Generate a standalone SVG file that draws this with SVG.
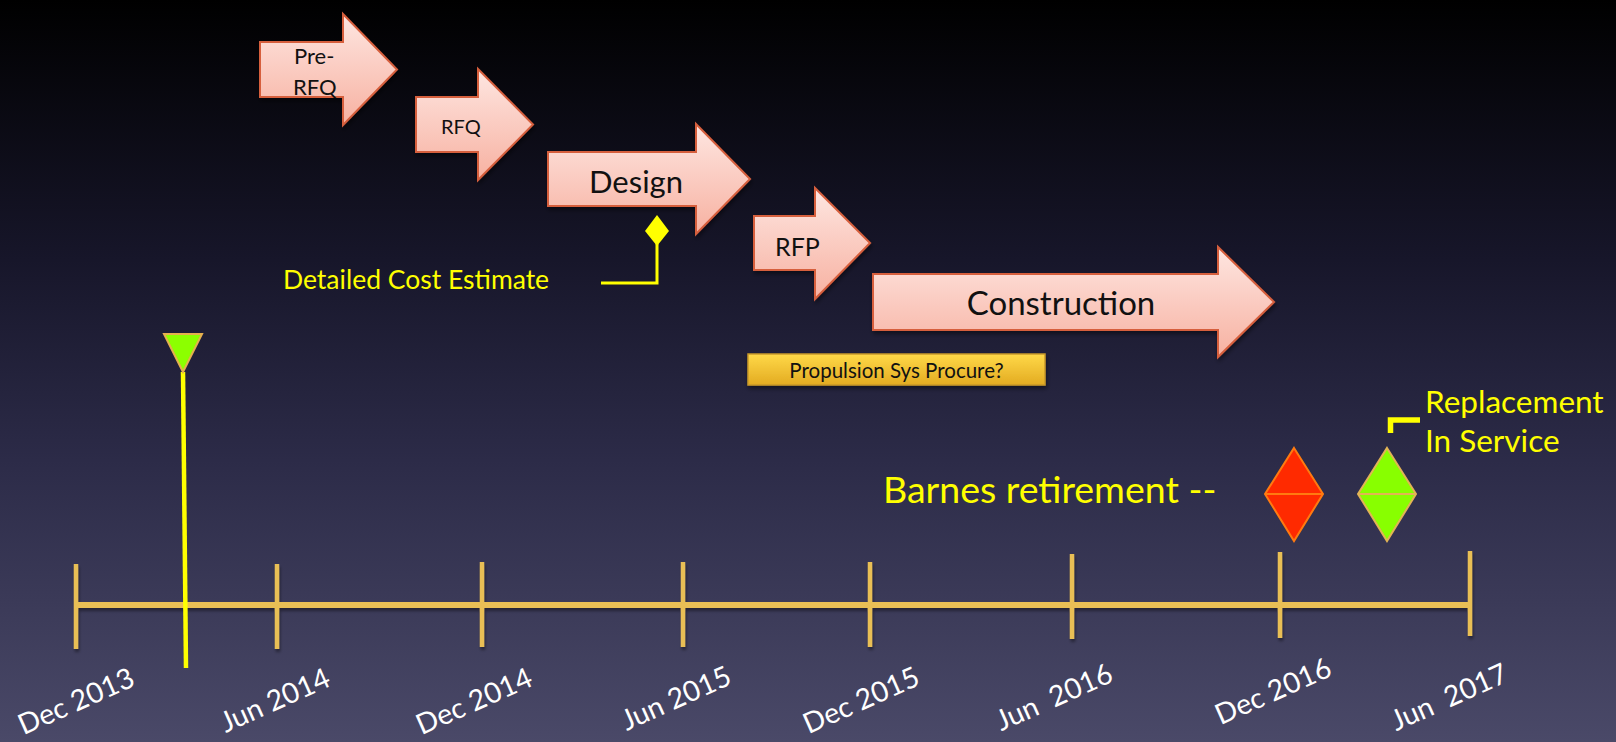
<svg xmlns="http://www.w3.org/2000/svg" width="1616" height="742" viewBox="0 0 1616 742">
<defs>
<linearGradient id="bg" x1="0" y1="0" x2="0" y2="1">
<stop offset="0" stop-color="#000000"/>
<stop offset="0.35" stop-color="#17162a"/>
<stop offset="0.62" stop-color="#2c2b48"/>
<stop offset="1" stop-color="#4a4968"/>
</linearGradient>
<linearGradient id="pink" x1="0" y1="0" x2="0" y2="1">
<stop offset="0" stop-color="#fee6e1"/>
<stop offset="1" stop-color="#f7b1a1"/>
</linearGradient>
<linearGradient id="gold" x1="0" y1="0" x2="0" y2="1">
<stop offset="0" stop-color="#ffd948"/>
<stop offset="1" stop-color="#e3ab22"/>
</linearGradient>
<filter id="sh" x="-10%" y="-10%" width="130%" height="140%">
<feDropShadow dx="1" dy="3" stdDeviation="2" flood-color="#000" flood-opacity="0.45"/>
</filter>
<filter id="shl" filterUnits="userSpaceOnUse" x="0" y="0" width="1616" height="742">
<feDropShadow dx="1" dy="3" stdDeviation="1.5" flood-color="#000" flood-opacity="0.4"/>
</filter>
</defs>
<style>
.arrow{fill:url(#pink);stroke:#d65f3e;stroke-width:2;filter:url(#sh)}
.atext{font-family:Lato,"Liberation Sans",sans-serif;fill:#111}
.ytext{font-family:Lato,"Liberation Sans",sans-serif;fill:#ffff00}
.date{font-family:Lato,"Liberation Sans",sans-serif;fill:#ffffff;font-size:28.5px;text-anchor:middle;white-space:pre}
.axis{stroke:#e9bf55;stroke-width:6;fill:none}
.tick{stroke:#e9bf55;stroke-width:4.5;fill:none}
.conn{stroke:#ffff00;fill:none}
</style>
<rect x="0" y="0" width="1616" height="742" fill="url(#bg)"/>

<g id="timeline">
<g filter="url(#shl)">
<line class="axis" x1="75" y1="605" x2="1469" y2="605"/>
<line class="tick" x1="76" y1="564" x2="76" y2="649"/>
<line class="tick" x1="277" y1="564" x2="277" y2="649"/>
<line class="tick" x1="482" y1="562" x2="482" y2="647"/>
<line class="tick" x1="683" y1="562" x2="683" y2="647"/>
<line class="tick" x1="870" y1="562" x2="870" y2="647"/>
<line class="tick" x1="1072" y1="554" x2="1072" y2="639"/>
<line class="tick" x1="1280" y1="552" x2="1280" y2="638"/>
<line class="tick" x1="1470" y1="551" x2="1470" y2="636"/>
</g>
<text class="date" x="76" y="701" dy="0.35em" transform="rotate(-24 76 701)">Dec 2013</text>
<text class="date" x="275" y="700" dy="0.35em" transform="rotate(-24 275 700)">Jun 2014</text>
<text class="date" x="474" y="701" dy="0.35em" transform="rotate(-24 474 701)">Dec 2014</text>
<text class="date" x="676" y="698" dy="0.35em" transform="rotate(-24 676 698)">Jun 2015</text>
<text class="date" x="861" y="700" dy="0.35em" transform="rotate(-24 861 700)">Dec 2015</text>
<text class="date" x="1054" y="697" dy="0.35em" transform="rotate(-24 1054 697)">Jun  2016</text>
<text class="date" x="1273" y="691" dy="0.35em" transform="rotate(-24 1273 691)">Dec 2016</text>
<text class="date" x="1449" y="697" dy="0.35em" transform="rotate(-24 1449 697)">Jun  2017</text>
</g>

<g id="pre-rfq">
<polygon class="arrow" points="260,42 343,42 343,14 397,69.5 343,125 343,97 260,97"/>
<text class="atext" x="294" y="64" font-size="22">Pre-</text>
<text class="atext" x="293" y="95" font-size="22">RFQ</text>
</g>
<g id="rfq">
<polygon class="arrow" points="416,97 478,97 478,69 533,124.5 478,180 478,152 416,152"/>
<text class="atext" x="441" y="134" font-size="20">RFQ</text>
</g>
<g id="design">
<polygon class="arrow" points="548,152 696,152 696,124 750,179 696,234 696,206 548,206"/>
<text class="atext" x="636" y="193" font-size="31" text-anchor="middle">Design</text>
</g>
<g id="rfp">
<polygon class="arrow" points="754,216 815,216 815,188 870,243 815,299 815,270 754,270"/>
<text class="atext" x="775" y="256" font-size="25">RFP</text>
</g>
<g id="construction">
<polygon class="arrow" points="873,274 1218,274 1218,247 1274,302 1218,357 1218,330 873,330"/>
<text class="atext" x="1061" y="315" font-size="33" text-anchor="middle">Construction</text>
</g>

<g id="propulsion">
<rect x="748" y="354" width="297" height="31" fill="url(#gold)" stroke="#c9992a" stroke-width="1.5" filter="url(#sh)"/>
<text class="atext" x="896.5" y="378" font-size="20.5" text-anchor="middle">Propulsion Sys Procure?</text>
</g>

<g id="cost-estimate">
<polygon points="657,215 669,231 657,246 645,231" fill="#ffff00"/>
<text class="ytext" x="283" y="289" font-size="26.5">Detailed Cost Estimate</text>
</g>

<g id="connectors">
<path class="conn" stroke-width="3" d="M601,283 H657 V244"/>
<path class="conn" stroke-width="4.5" d="M183,372 L186,668"/>
<path class="conn" stroke-width="5.5" d="M1390.5,433 V420 H1420"/>
</g>

<g id="start-marker">
<polygon points="164,334 202,334 183,372" fill="#8cff00" stroke="#e5b04e" stroke-width="2"/>
</g>

<g id="barnes-retirement">
<text class="ytext" x="883" y="503" font-size="37.5">Barnes retirement --</text>
<polygon points="1294,448 1323,494 1294,541 1265,494" fill="#ff2a00" stroke="#ff7a10" stroke-width="2"/>
<line x1="1265" y1="494" x2="1323" y2="494" stroke="#ff7a10" stroke-width="2"/>
</g>

<g id="replacement">
<polygon points="1387,448 1416,494 1387,541 1358,494" fill="#88ff00" stroke="#e2b455" stroke-width="2"/>
<line x1="1358" y1="494" x2="1416" y2="494" stroke="#e2b455" stroke-width="2"/>
<text class="ytext" x="1425" y="413" font-size="31.5">Replacement</text>
<text class="ytext" x="1425" y="452" font-size="31.5">In Service</text>
</g>
</svg>
